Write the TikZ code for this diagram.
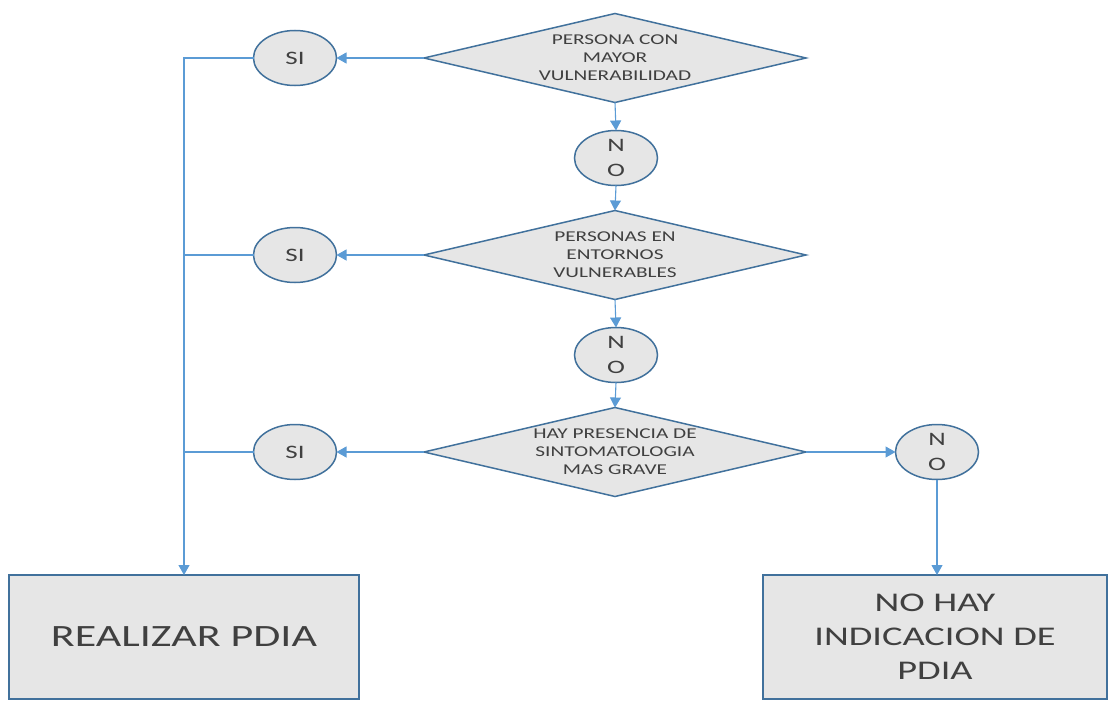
\documentclass[tikz,border=0pt]{standalone}
\usepackage{fontspec}
\setmainfont{Carlito}[FakeStretch=1.42]
\usetikzlibrary{shapes.geometric,arrows.meta}
\definecolor{fillg}{HTML}{E6E6E6}
\definecolor{bord}{HTML}{41719C}
\definecolor{conn}{HTML}{5B9BD5}
\definecolor{txt}{HTML}{404040}
\begin{document}
\begin{tikzpicture}[x=1pt,y=-1pt,
  decision/.style={diamond, draw=bord, fill=fillg, line width=1.5pt, shape aspect=4.3,
    minimum width=382pt, minimum height=89pt, inner sep=0pt, outer sep=0pt,
    align=center, text=txt, font=\fontsize{15}{18}\selectfont},
  answer/.style={ellipse, draw=bord, fill=fillg, line width=1.5pt,
    minimum width=83pt, minimum height=55pt, inner sep=0pt, outer sep=0pt,
    align=center, text=txt, font=\fontsize{19}{25}\selectfont},
  result/.style={rectangle, draw=bord, fill=fillg, line width=1.5pt,
    minimum height=124pt, inner sep=0pt, outer sep=0pt,
    align=center, text=txt, font=\fontsize{27}{34}\selectfont},
  link/.style={draw=conn, line width=1.1pt},
  arr/.style={link, -{Triangle[length=10pt,width=11pt]}}]
\useasboundingbox (0,0) rectangle (1108,709);

\node[decision] (d1) at (615,58) {PERSONA CON\\MAYOR\\VULNERABILIDAD};
\node[decision] (d2) at (615,255) {PERSONAS EN\\ENTORNOS\\VULNERABLES};
\node[decision] (d3) at (615,452) {HAY PRESENCIA DE\\SINTOMATOLOGIA\\MAS GRAVE};

\node[answer] (s1) at (295,58) {SI};
\node[answer] (s2) at (295,255) {SI};
\node[answer] (s3) at (295,452) {SI};

\node[answer] (n1) at (616,158) {N\\O};
\node[answer] (n2) at (616,355) {N\\O};
\node[answer] (n3) at (937,452) {N\\O};

\node[result, minimum width=350pt, font=\fontsize{31}{36}\selectfont] (r1) at (184,637) {REALIZAR PDIA};
\node[result, minimum width=344pt] (r2) at (935,637) {NO HAY\\INDICACION DE\\PDIA};

\draw[arr] (d1.west) -- (s1.east);
\draw[arr] (d2.west) -- (s2.east);
\draw[arr] (d3.west) -- (s3.east);
\draw[arr] (d1.south) -- (n1.north);
\draw[arr] (n1.south) -- (d2.north);
\draw[arr] (d2.south) -- (n2.north);
\draw[arr] (n2.south) -- (d3.north);
\draw[arr] (d3.east) -- (n3.west);
\draw[arr] (n3.south) -- (n3.south |- r2.north);
\draw[arr] (s1.west) -| (r1.north);
\draw[link] (s2.west) -- (s2.west -| r1.north);
\draw[link] (s3.west) -- (s3.west -| r1.north);
\end{tikzpicture}
\end{document}
